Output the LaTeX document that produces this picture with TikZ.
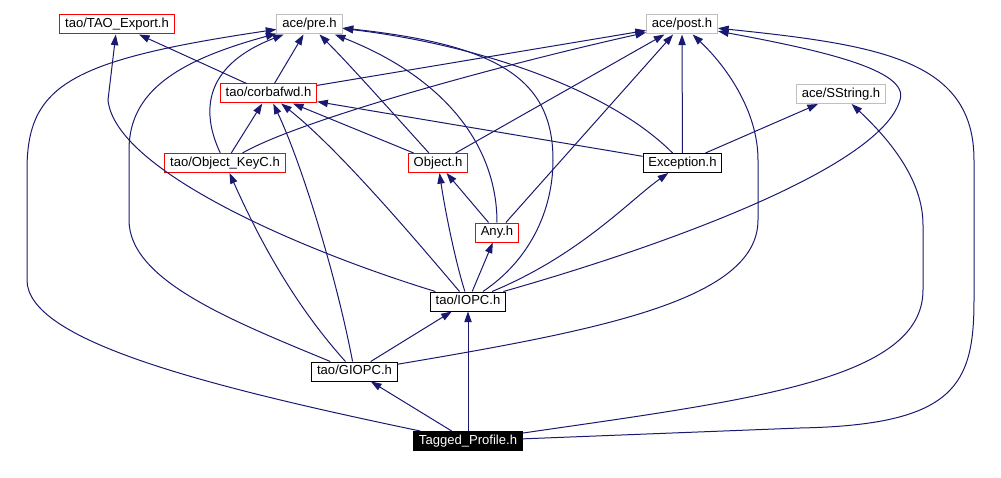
\documentclass[tikz,border=0pt]{standalone}
\usepackage{fontspec}
\setmainfont{Liberation Sans}
\usepackage{tikz}
\usetikzlibrary{arrows.meta}
\definecolor{edgeblue}{HTML}{191970}
\definecolor{truncred}{HTML}{FF0000}
\definecolor{extgray}{HTML}{BFBFBF}

\begin{document}
\begin{tikzpicture}[x=0.75pt,y=-0.75pt,
    hdr/.style={draw,fill=white,line width=0.75pt,inner xsep=4pt,inner ysep=0pt,
      minimum height=14.25pt,text height=7pt,text depth=2pt,font=\fontsize{9.8}{11}\selectfont},
    known/.style={hdr,draw=black},
    trunc/.style={hdr,draw=truncred},
    ext/.style={hdr,draw=extgray},
    root/.style={hdr,draw=black,fill=black,text=white},
    dep/.style={edgeblue,line width=0.75pt,-{Triangle[length=8pt,width=5.5pt]}}]
    \useasboundingbox (0,0) rectangle (1001,478);
    % headers
    \node[trunc] (taoexport) at (117,24.5) {tao/TAO\_Export.h};
    \node[ext] (preh) at (309.5,24.5) {ace/pre.h};
    \node[ext] (posth) at (682,24.5) {ace/post.h};
    \node[trunc] (corbafwd) at (268.5,93.5) {tao/corbafwd.h};
    \node[ext] (sstring) at (841,94) {ace/SString.h};
    \node[trunc] (okeyc) at (225,163) {tao/Object\_KeyC.h};
    \node[trunc] (objecth) at (438,163) {Object.h};
    \node[known] (exceptionh) at (682.5,163) {Exception.h};
    \node[trunc] (anyh) at (497,232.5) {Any.h};
    \node[known] (iopc) at (468,301.5) {tao/IOPC.h};
    \node[known] (giopc) at (354.5,371.5) {tao/GIOPC.h};
    \node[root] (tagged) at (468,441) {Tagged\_Profile.h};
    % Tagged_Profile.h
    \draw[dep] (tagged) -- (giopc);
    \draw[dep] (tagged) -- (iopc);
    \draw[dep] (tagged) .. controls (200,385) and (27,340) .. (27,280) -- (27,170)
      .. controls (27,85) and (70,60) .. (preh);
    \draw[dep] (tagged) -- (800,428) .. controls (955,425) and (974,385) .. (974,300) -- (974,160)
      .. controls (974,60) and (880,45) .. (posth);
    \draw[dep] (tagged) .. controls (750,400) and (923,380) .. (923,290) -- (923,225)
      .. controls (923,180) and (890,140) .. (sstring);
    % tao/GIOPC.h
    \draw[dep] (giopc) -- (iopc);
    \draw[dep] (giopc) .. controls (230,320) and (129,280) .. (129,220) -- (129,150)
      .. controls (129,90) and (180,60) .. (preh);
    \draw[dep] (giopc) .. controls (600,330) and (758,300) .. (758,220) -- (758,160)
      .. controls (758,110) and (725,65) .. (posth);
    \draw[dep] (giopc) .. controls (290,300) and (255,230) .. (okeyc);
    \draw[dep] (giopc) .. controls (335,270) and (300,160) .. (corbafwd);
    % tao/IOPC.h
    \draw[dep] (iopc) .. controls (300,250) and (115,170) .. (108,100) -- (taoexport);
    \draw[dep] (iopc) .. controls (530,260) and (553,210) .. (553,160)
      .. controls (553,80) and (500,45) .. (preh);
    \draw[dep] (iopc) .. controls (650,250) and (880,170) .. (900,100)
      .. controls (910,70) and (820,50) .. (posth);
    \draw[dep] (iopc) .. controls (420,245) and (340,150) .. (corbafwd);
    \draw[dep] (iopc) .. controls (455,260) and (445,210) .. (objecth);
    \draw[dep] (iopc) -- (anyh);
    \draw[dep] (iopc) .. controls (580,255) and (630,200) .. (exceptionh);
    % Any.h
    \draw[dep] (anyh) -- (objecth);
    \draw[dep] (anyh) .. controls (497,150) and (450,80) .. (preh);
    \draw[dep] (anyh) -- (posth);
    % Object.h
    \draw[dep] (objecth) .. controls (390,110) and (350,65) .. (preh);
    \draw[dep] (objecth) -- (posth);
    \draw[dep] (objecth) -- (corbafwd);
    % Exception.h
    \draw[dep] (exceptionh) .. controls (610,90) and (480,45) .. (preh);
    \draw[dep] (exceptionh) -- (posth);
    \draw[dep] (exceptionh) -- (sstring);
    \draw[dep] (exceptionh) -- (corbafwd);
    % tao/Object_KeyC.h
    \draw[dep] (okeyc) -- (corbafwd);
    \draw[dep] (okeyc) .. controls (200,110) and (205,65) .. (preh);
    \draw[dep] (okeyc) .. controls (300,120) and (500,65) .. (posth);
    % tao/corbafwd.h
    \draw[dep] (corbafwd) -- (preh);
    \draw[dep] (corbafwd) -- (taoexport);
    \draw[dep] (corbafwd) -- (posth);
  \end{tikzpicture}
\end{document}
